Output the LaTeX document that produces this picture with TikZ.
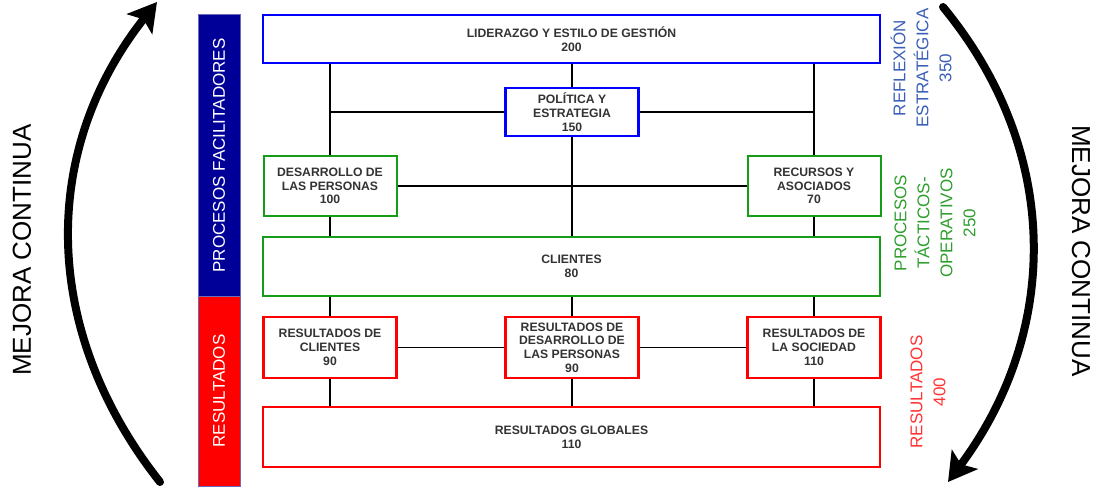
\documentclass[tikz,border=0pt]{standalone}
\usepackage{fontspec}
\setmainfont{Liberation Sans}
\usetikzlibrary{arrows.meta}
\definecolor{azul}{HTML}{0000FF}
\definecolor{verde}{HTML}{169C16}
\definecolor{rojo}{HTML}{FF0000}
\definecolor{marino}{HTML}{000099}
\definecolor{lila}{HTML}{6A6AB8}
\definecolor{texto}{HTML}{333333}
\definecolor{azultxt}{HTML}{3A5FB8}
\definecolor{verdetxt}{HTML}{2E9E2E}
\definecolor{rojotxt}{HTML}{FF3333}
\begin{document}
\begin{tikzpicture}[x=1pt,y=-1pt,
  caja/.style={draw,line width=2.2pt,fill=white,align=center,inner sep=1pt,text=texto,
    font=\fontsize{12.2}{13.8}\selectfont\bfseries},
  chica/.style={caja,minimum width=133pt},
  ancha/.style={caja,minimum width=617pt},
  barra/.style={draw=lila,line width=1pt,rotate=90,minimum height=42pt,text=white,
    font=\fontsize{17}{20}\selectfont},
  lado/.style={rotate=90,align=center,font=\fontsize{17}{23}\selectfont},
  mejora/.style={font=\fontsize{26}{30}\selectfont},
  flecha/.style={line width=8pt,line cap=round,-{Stealth[length=28pt,width=32pt,inset=6pt]}},
  linea/.style={line width=1.3pt}]
\useasboundingbox (0,0) rectangle (1099,489);
\node[barra,fill=marino,minimum width=281pt] (fac) at (219,155.5) {PROCESOS FACILITADORES};
\node[barra,fill=rojo,minimum width=190pt] (res) at (219,391) {RESULTADOS};
\node[ancha,draw=azul,minimum height=48pt] (lid) at (571.5,39) {LIDERAZGO Y ESTILO DE GESTIÓN\\200};
\node[chica,draw=azul,minimum height=48pt] (pol) at (572,112) {POLÍTICA Y\\ESTRATEGIA\\150};
\node[chica,draw=verde,line width=2pt,minimum height=60pt] (des) at (330,186) {DESARROLLO DE\\LAS PERSONAS\\100};
\node[chica,draw=verde,line width=2pt,minimum height=60pt] (rec) at (814,186) {RECURSOS Y\\ASOCIADOS\\70};
\node[ancha,draw=verde,line width=2pt,minimum height=59pt] (cli) at (571.5,266.5) {CLIENTES\\80};
\node[chica,draw=rojo,minimum height=61pt] (rcl) at (330,347.5) {RESULTADOS DE\\CLIENTES\\90};
\node[chica,draw=rojo,minimum height=61pt] (rdp) at (572,347.5) {RESULTADOS DE\\DESARROLLO DE\\LAS PERSONAS\\90};
\node[chica,draw=rojo,minimum height=61pt] (rso) at (814,347.5) {RESULTADOS DE\\LA SOCIEDAD\\110};
\node[ancha,draw=rojo,minimum height=60pt] (glo) at (571.5,437) {RESULTADOS GLOBALES\\110};
\node[lado,text=azultxt] (ref) at (921,68) {REFLEXIÓN\\ESTRATÉGICA\\350};
\node[lado,text=verdetxt] (tac) at (935,223) {PROCESOS\\TÁCTICOS-\\OPERATIVOS\\250};
\node[lado,text=rojotxt] (rlt) at (928,392) {RESULTADOS\\400};
\node[mejora,rotate=90] (mi) at (22,250) {MEJORA CONTINUA};
\node[mejora,rotate=-90] (md) at (1081,251) {MEJORA CONTINUA};
\coordinate (ia) at (160,482);
\coordinate (ib) at (157,2);
\coordinate (da) at (943,7);
\coordinate (db) at (948,482);
\draw[flecha] (ia) .. controls (40,330) and (40,150) .. (ib);
\draw[flecha] (da) .. controls (1061,150) and (1061,330) .. (db);
\draw[linea] (des.north |- lid.south) -- (des.north);
\draw[linea] (pol.north |- lid.south) -- (pol.north);
\draw[linea] (rec.north |- lid.south) -- (rec.north);
\draw[linea] (pol.west -| des.north) -- (pol.west);
\draw[linea] (pol.east) -- (pol.east -| rec.north);
\draw[linea] (des.east) -- (rec.west);
\draw[linea] (pol.south) -- (pol.south |- cli.north);
\draw[linea] (des.south) -- (des.south |- cli.north);
\draw[linea] (rec.south) -- (rec.south |- cli.north);
\draw[linea] (rcl.north |- cli.south) -- (rcl.north);
\draw[linea] (rdp.north |- cli.south) -- (rdp.north);
\draw[linea] (rso.north |- cli.south) -- (rso.north);
\draw[linea] (rcl.east) -- (rdp.west);
\draw[linea] (rdp.east) -- (rso.west);
\draw[linea] (rcl.south) -- (rcl.south |- glo.north);
\draw[linea] (rdp.south) -- (rdp.south |- glo.north);
\draw[linea] (rso.south) -- (rso.south |- glo.north);
\end{tikzpicture}
\end{document}
